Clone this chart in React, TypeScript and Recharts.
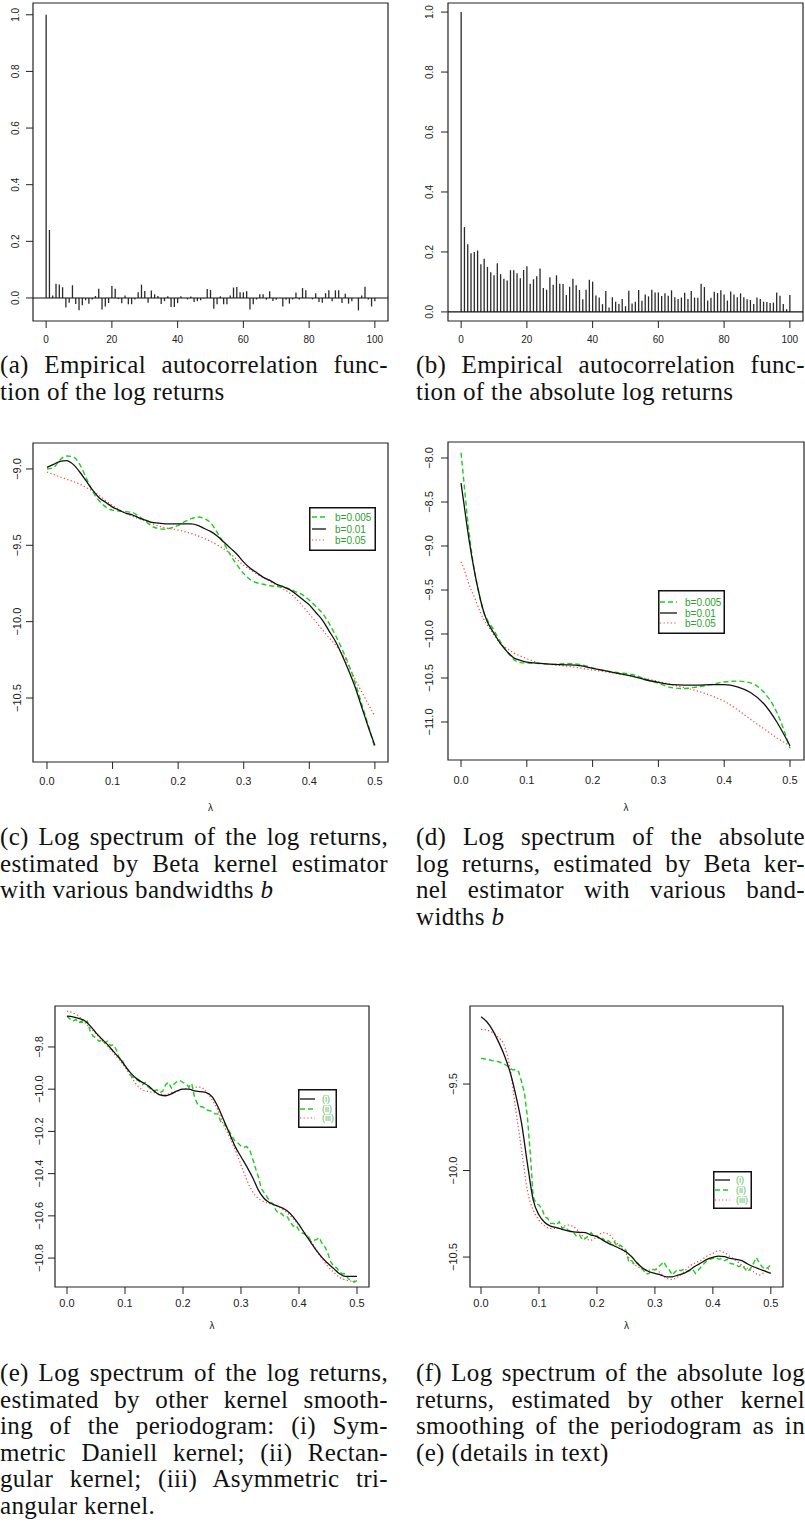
import React from 'react';
import { ComposedChart, Line, Bar, XAxis, YAxis, ReferenceLine, ReferenceArea, Legend } from 'recharts';

const SANS = '"Liberation Sans", Arial, Helvetica, sans-serif';
const SERIF = '"Liberation Serif", "Times New Roman", serif';

// ---------- ACF data (lags 0..100) ----------
const acfLags = Array.from({ length: 101 }, (_, i) => i);
const acfLogReturns = [
  1.0, 0.24, 0.009, 0.05, 0.048, 0.038, -0.034, -0.017, 0.045, -0.021,
  -0.043, -0.026, -0.008, -0.02, -0.005, 0.007, 0.033, -0.041, -0.03, -0.018,
  0.042, 0.033, -0.004, -0.019, 0.009, -0.022, -0.022, -0.005, 0.02, 0.047,
  0.025, -0.017, 0.026, 0.013, 0.007, -0.021, -0.011, 0.006, -0.032, -0.032,
  -0.018, 0.006, 0.0, -0.005, 0.005, -0.014, -0.011, -0.008, -0.002, 0.032,
  0.028, -0.038, -0.022, 0.006, -0.022, -0.022, 0.009, 0.037, 0.039, 0.02,
  0.02, 0.024, -0.041, -0.022, -0.005, 0.013, 0.013, -0.006, 0.024, -0.011,
  -0.006, 0.0, -0.03, -0.006, -0.02, -0.005, 0.019, -0.005, 0.035, 0.027,
  0.0, -0.005, 0.017, -0.014, -0.017, 0.017, 0.027, -0.012, 0.027, 0.027,
  -0.018, 0.015, -0.02, -0.012, 0.0, -0.044, 0.009, 0.04, -0.005, -0.03,
  -0.012,
];
const acfAbsLogReturns = [
  1.0, 0.283, 0.226, 0.196, 0.2, 0.205, 0.159, 0.177, 0.15, 0.132,
  0.122, 0.162, 0.126, 0.111, 0.105, 0.139, 0.139, 0.129, 0.112, 0.14,
  0.152, 0.094, 0.109, 0.119, 0.145, 0.08, 0.074, 0.116, 0.091, 0.122,
  0.094, 0.093, 0.056, 0.084, 0.111, 0.089, 0.073, 0.042, 0.074, 0.107,
  0.101, 0.055, 0.048, 0.026, 0.07, 0.015, 0.049, 0.034, 0.026, 0.043,
  0.019, 0.071, 0.028, 0.034, 0.073, 0.037, 0.058, 0.052, 0.074, 0.065,
  0.065, 0.053, 0.062, 0.054, 0.072, 0.049, 0.043, 0.048, 0.064, 0.043,
  0.07, 0.048, 0.047, 0.094, 0.083, 0.038, 0.047, 0.067, 0.063, 0.072,
  0.058, 0.038, 0.068, 0.058, 0.049, 0.062, 0.049, 0.042, 0.04, 0.026,
  0.048, 0.043, 0.034, 0.033, 0.03, 0.031, 0.065, 0.054, 0.026, 0.009,
  0.056,
];
const acfXTicks = [0, 20, 40, 60, 80, 100];
const acfYTicks = [0, 0.2, 0.4, 0.6, 0.8, 1.0];

// ---------- frequency grids ----------
const grid = (step: number) => Array.from({ length: Math.round(0.5 / step) + 1 }, (_, i) => +(i * step).toFixed(4));
const lam01 = grid(0.01);
const lam005 = grid(0.005);
const lam025 = grid(0.025);
const lamD = [0, 0.005, 0.01, 0.015, 0.02, 0.025, 0.03, 0.035, 0.04, 0.05, 0.06, 0.07, 0.08, 0.09, 0.1,
  0.12, 0.14, 0.16, 0.18, 0.2, 0.22, 0.24, 0.26, 0.28, 0.3, 0.32, 0.34, 0.36, 0.38, 0.4, 0.42, 0.44, 0.46, 0.48, 0.5];
const lambdaTicks = [0, 0.1, 0.2, 0.3, 0.4, 0.5];

// ---------- (c) log spectrum of log returns, Beta kernel ----------
const cB005 = [
  -9.0, -8.99, -8.94, -8.915, -8.92, -8.97, -9.06, -9.15, -9.21, -9.25,
  -9.27, -9.275, -9.28, -9.285, -9.31, -9.34, -9.375, -9.39, -9.395, -9.385,
  -9.37, -9.345, -9.325, -9.315, -9.325, -9.355, -9.42, -9.49, -9.565, -9.63,
  -9.685, -9.725, -9.745, -9.755, -9.765, -9.77, -9.775, -9.785, -9.805, -9.825,
  -9.86, -9.9, -9.945, -10.01, -10.09, -10.18, -10.28, -10.4, -10.54, -10.68,
  -10.83,
];
const cB01 = [
  -8.99, -8.97, -8.95, -8.945, -8.97, -9.02, -9.08, -9.14, -9.19, -9.22,
  -9.25, -9.27, -9.29, -9.3, -9.32, -9.335, -9.35, -9.355, -9.36, -9.36,
  -9.36, -9.36, -9.36, -9.37, -9.39, -9.41, -9.44, -9.48, -9.52, -9.56,
  -9.61, -9.65, -9.68, -9.71, -9.73, -9.755, -9.77, -9.79, -9.82, -9.855,
  -9.89, -9.94, -9.99, -10.06, -10.13, -10.22, -10.32, -10.43, -10.56, -10.69,
  -10.81,
];
const cB05 = [
  -9.02, -9.06, -9.1, -9.16, -9.24, -9.3, -9.34, -9.38, -9.4, -9.43,
  -9.475, -9.54, -9.63, -9.7, -9.76, -9.83, -9.95, -10.08, -10.21, -10.42,
  -10.62,
];
const cYTicks = [-9.0, -9.5, -10.0, -10.5];

// ---------- (d) log spectrum of absolute log returns, Beta kernel ----------
const dB005 = [
  -7.94, -8.32, -8.7, -9.01, -9.27, -9.46, -9.625, -9.765, -9.84,
  -9.955, -10.09, -10.2, -10.29, -10.325, -10.33,
  -10.335, -10.345, -10.335, -10.345, -10.385, -10.42, -10.44, -10.46, -10.51, -10.56,
  -10.61, -10.62, -10.6, -10.575, -10.545, -10.535, -10.555, -10.66, -10.89, -11.3,
];
const dB01 = [
  -8.285, -8.55, -8.82, -9.06, -9.27, -9.46, -9.625, -9.76, -9.86,
  -9.99, -10.11, -10.2, -10.27, -10.3, -10.32,
  -10.335, -10.345, -10.35, -10.36, -10.39, -10.42, -10.45, -10.48, -10.52, -10.55,
  -10.575, -10.58, -10.58, -10.575, -10.575, -10.6, -10.665, -10.79, -11.0, -11.27,
];
const dB05 = [
  -9.18, -9.27, -9.39, -9.49, -9.575, -9.67, -9.765, -9.84, -9.9,
  -10.01, -10.11, -10.165, -10.215, -10.25, -10.28,
  -10.33, -10.35, -10.365, -10.385, -10.41, -10.43, -10.455, -10.48, -10.505, -10.54,
  -10.575, -10.61, -10.65, -10.7, -10.765, -10.86, -10.97, -11.075, -11.18, -11.27,
];
const dYTicks = [-8.0, -8.5, -9.0, -9.5, -10.0, -10.5, -11.0];

// ---------- (e) log returns, other kernels ----------
const eDaniell = [
  -9.654, -9.657, -9.665, -9.675, -9.7, -9.733, -9.762, -9.789, -9.821, -9.852,
  -9.889, -9.924, -9.95, -9.968, -9.984, -10.008, -10.027, -10.031, -10.022, -10.008,
  -10.0, -10.0, -10.008, -10.012, -10.016, -10.035, -10.082, -10.145, -10.209, -10.272,
  -10.32, -10.367, -10.418, -10.478, -10.518, -10.539, -10.55, -10.561, -10.577, -10.605,
  -10.642, -10.684, -10.724, -10.764, -10.798, -10.826, -10.85, -10.874, -10.887, -10.887,
  -10.887,
];
const eRect = [
  -9.654, -9.667, -9.678, -9.67, -9.686, -9.678, -9.689, -9.678, -9.726, -9.749,
  -9.757, -9.773, -9.768, -9.781, -9.773, -9.794, -9.789, -9.813, -9.852, -9.86,
  -9.892, -9.908, -9.936, -9.947, -9.955, -9.963, -9.979, -9.968, -9.99, -10.0,
  -10.008, -10.003, -10.016, -10.011, -9.979, -9.968, -9.995, -9.974, -9.963, -9.96,
  -9.968, -9.974, -9.99, -9.974, -10.038, -10.07, -10.082, -10.085, -10.098, -10.101,
  -10.106, -10.117, -10.117, -10.153, -10.161, -10.177, -10.201, -10.225, -10.248, -10.256,
  -10.269, -10.275, -10.272, -10.288, -10.328, -10.375, -10.415, -10.47, -10.491, -10.51,
  -10.534, -10.542, -10.573, -10.589, -10.589, -10.605, -10.605, -10.629, -10.649, -10.645,
  -10.668, -10.681, -10.687, -10.692, -10.716, -10.716, -10.713, -10.703, -10.732, -10.748,
  -10.779, -10.819, -10.84, -10.846, -10.867, -10.874, -10.874, -10.898, -10.906, -10.914,
  -10.906,
];
const eTriang = [
  -9.63, -9.638, -9.654, -9.683, -9.71, -9.737, -9.768, -9.797, -9.829, -9.86,
  -9.895, -9.939, -9.979, -10.003, -10.011, -10.016, -10.022, -10.027, -10.016, -10.011,
  -10.0, -9.995, -9.99, -9.99, -10.011, -10.05, -10.098, -10.169, -10.225, -10.288,
  -10.359, -10.43, -10.486, -10.518, -10.534, -10.542, -10.55, -10.566, -10.586, -10.613,
  -10.645, -10.681, -10.716, -10.764, -10.803, -10.84, -10.867, -10.891, -10.903, -10.909,
  -10.909,
];
const eYTicks = [-9.8, -10.0, -10.2, -10.4, -10.6, -10.8];

// ---------- (f) absolute log returns, other kernels ----------
const fDaniell = [
  -9.111, -9.14, -9.188, -9.255, -9.332, -9.429, -9.564, -9.727, -9.959, -10.17,
  -10.257, -10.3, -10.321, -10.33, -10.34, -10.348, -10.354, -10.357, -10.359, -10.373,
  -10.382, -10.402, -10.421, -10.436, -10.452, -10.469, -10.498, -10.537, -10.566, -10.585,
  -10.594, -10.604, -10.614, -10.614, -10.604, -10.594, -10.575, -10.552, -10.533, -10.513,
  -10.502, -10.494, -10.498, -10.508, -10.513, -10.521, -10.54, -10.556, -10.569, -10.581,
  -10.594,
];
const fRect = [
  -9.352, -9.354, -9.357, -9.361, -9.365, -9.368, -9.371, -9.377, -9.384, -9.395,
  -9.409, -9.419, -9.415, -9.429, -9.487, -9.554, -9.689, -9.901, -10.151, -10.19,
  -10.199, -10.219, -10.267, -10.276, -10.305, -10.305, -10.315, -10.296, -10.334, -10.325,
  -10.344, -10.354, -10.359, -10.382, -10.373, -10.402, -10.392, -10.379, -10.359, -10.382,
  -10.379, -10.402, -10.392, -10.411, -10.406, -10.421, -10.411, -10.44, -10.431, -10.444,
  -10.46, -10.527, -10.521, -10.546, -10.533, -10.56, -10.575, -10.598, -10.594, -10.571,
  -10.575, -10.56, -10.546, -10.527, -10.556, -10.575, -10.604, -10.585, -10.571, -10.579,
  -10.571, -10.585, -10.579, -10.571, -10.594, -10.575, -10.556, -10.537, -10.521, -10.513,
  -10.508, -10.502, -10.513, -10.508, -10.521, -10.513, -10.537, -10.54, -10.546, -10.556,
  -10.546, -10.566, -10.585, -10.566, -10.537, -10.502, -10.533, -10.556, -10.571, -10.56,
  -10.546,
];
const fTriang = [
  -9.184, -9.188, -9.203, -9.23, -9.275, -9.409, -9.65, -9.882, -10.113, -10.228,
  -10.286, -10.321, -10.334, -10.334, -10.325, -10.315, -10.325, -10.359, -10.392, -10.402,
  -10.382, -10.359, -10.367, -10.402, -10.44, -10.479, -10.527, -10.556, -10.571, -10.575,
  -10.571, -10.594, -10.623, -10.629, -10.614, -10.585, -10.552, -10.533, -10.517, -10.494,
  -10.479, -10.463, -10.475, -10.498, -10.521, -10.546, -10.566, -10.585, -10.604, -10.585,
  -10.556,
];
const fYTicks = [-9.5, -10.0, -10.5];

const betaLabels = ['b=0.005', 'b=0.01', 'b=0.05'];
const kernelLabels = ['(i)', '(ii)', '(iii)'];

// ---------- styles ----------
const GREEN = '#1fcb1f';
const BLACK = '#111';
const RED = '#ff3b3b';
const STY = {
  green: { color: GREEN, width: 1.4, dash: '5 3' },
  black: { color: BLACK, width: 1.3, dash: undefined as string | undefined },
  red: { color: RED, width: 1.2, dash: '1.2 2.4' },
};

const fmt1 = (v: number) => (v < 0 ? '\u2212' : '') + Math.abs(v).toFixed(1);

type Series = { key: string; xs: number[]; ys: number[]; style: { color: string; width: number; dash?: string }; curve: 'monotone' | 'linear' };

function buildTable(series: Series[]) {
  const map = new Map<number, any>();
  series.forEach((s) =>
    s.xs.forEach((x, i) => {
      const k = Math.round(x * 10000);
      if (!map.has(k)) map.set(k, { x: k / 10000 });
      map.get(k)[s.key] = s.ys[i];
    })
  );
  return Array.from(map.values()).sort((a, b) => a.x - b.x);
}

const RotTick = (props: any) => {
  const { x, y, payload, fontSize } = props;
  return (
    <text x={x} y={y} transform={`rotate(-90 ${x} ${y})`} textAnchor="middle" fontSize={fontSize} fill="#222" fontFamily={SANS}>
      {fmt1(payload.value)}
    </text>
  );
};

function LegendBox({ w, h, rows, lineX, textX, fontSize, textColor, items }: any) {
  return (
    <svg width={w} height={h} style={{ display: 'block' }}>
      <rect x={0.75} y={0.75} width={w - 1.5} height={h - 1.5} fill="#fff" stroke="#111" strokeWidth={1.5} />
      {items.map((it: any, i: number) => (
        <g key={i}>
          <line x1={lineX[0]} x2={lineX[1]} y1={rows[i]} y2={rows[i]} stroke={it.style.color} strokeWidth={it.style.width} strokeDasharray={it.style.dash} />
          <text x={textX} y={rows[i]} dy="0.36em" fontSize={fontSize} fill={textColor} fontFamily={SANS}>
            {it.label}
          </text>
        </g>
      ))}
    </svg>
  );
}

function AcfPanel({ left, width, values, yAxisWidth, yDomain, yTickMargin, rightMargin }: any) {
  const data = acfLags.map((lag, i) => ({ lag, v: values[i] }));
  const xDomain = [-4, 104];
  return (
    <div style={{ position: 'absolute', left, top: 0 }}>
      <ComposedChart width={width} height={350} data={data} margin={{ top: 3, right: rightMargin, bottom: 4, left: 0 }}>
        <XAxis dataKey="lag" type="number" domain={xDomain} allowDataOverflow ticks={acfXTicks} interval={0} height={25}
          axisLine={false} tickSize={7} tickMargin={8} tickLine={{ stroke: '#222' }}
          tick={{ fontSize: 10, fill: '#222', fontFamily: SANS }} />
        <YAxis type="number" domain={yDomain} allowDataOverflow ticks={acfYTicks} interval={0} width={yAxisWidth}
          axisLine={false} tickSize={7} tickMargin={yTickMargin} tickLine={{ stroke: '#222' }}
          tick={(p: any) => <RotTick {...p} fontSize={10} />} />
        <Bar dataKey="v" barSize={1.3} fill="#2a2a2a" isAnimationActive={false} />
        <ReferenceLine y={0} stroke="#111" strokeWidth={1.2} />
        <ReferenceArea x1={xDomain[0]} x2={xDomain[1]} y1={yDomain[0]} y2={yDomain[1]} fill="none" fillOpacity={0}
          stroke="#222" strokeWidth={1.2} ifOverflow="visible" />
      </ComposedChart>
    </div>
  );
}

function SpectrumPanel(p: any) {
  const data = buildTable(p.series);
  return (
    <div style={{ position: 'absolute', left: p.left, top: p.top }}>
      <ComposedChart width={p.width} height={p.height} data={data} margin={p.margin}>
        <XAxis dataKey="x" type="number" domain={p.xDomain} allowDataOverflow ticks={lambdaTicks} interval={0} height={p.xAxisHeight}
          axisLine={false} tickSize={7} tickMargin={p.xTickMargin} tickLine={{ stroke: '#222' }}
          tickFormatter={(v: number) => v.toFixed(1)}
          tick={{ fontSize: 11, fill: '#222', fontFamily: SANS }}
          label={{ value: '\u03bb', position: 'insideBottom', offset: p.lambdaOffset, fontSize: 10, fill: '#222', fontFamily: SANS }} />
        <YAxis type="number" domain={p.yDomain} allowDataOverflow ticks={p.yTicks} interval={0} width={p.yAxisWidth}
          axisLine={false} tickSize={7} tickMargin={p.yTickMargin} tickLine={{ stroke: '#222' }}
          tick={(tp: any) => <RotTick {...tp} fontSize={11} />} />
        {p.series.map((s: Series) => (
          <Line key={s.key} dataKey={s.key} type={s.curve} stroke={s.style.color} strokeWidth={s.style.width}
            strokeDasharray={s.style.dash} dot={false} activeDot={false} connectNulls isAnimationActive={false} legendType="none" />
        ))}
        <ReferenceArea x1={p.xDomain[0]} x2={p.xDomain[1]} y1={p.yDomain[0]} y2={p.yDomain[1]} fill="none" fillOpacity={0}
          stroke="#222" strokeWidth={1.2} ifOverflow="visible" />
        <Legend layout="vertical" align="center" verticalAlign="middle"
          wrapperStyle={{ left: p.legend.left, top: p.legend.top, width: p.legend.w, height: p.legend.h }}
          content={() => <LegendBox {...p.legend} />} />
      </ComposedChart>
    </div>
  );
}

function Caption({ left, top, width, lines }: { left: number; top: number; width: number; lines: React.ReactNode[] }) {
  return (
    <div style={{ position: 'absolute', left, top, width, fontFamily: SERIF, fontSize: 25, lineHeight: '26.5px', letterSpacing: '0.35px', color: '#111' }}>
      {lines.map((ln, i) => {
        const last = i === lines.length - 1;
        return (
          <div key={i} style={{ textAlign: last ? 'left' : 'justify', textAlignLast: last ? 'left' : 'justify' } as any}>
            {ln}
          </div>
        );
      })}
    </div>
  );
}

export default function App() {
  const betaItems = [
    { label: betaLabels[0], style: STY.green },
    { label: betaLabels[1], style: STY.black },
    { label: betaLabels[2], style: STY.red },
  ];
  const kernelItems = [
    { label: kernelLabels[0], style: STY.black },
    { label: kernelLabels[1], style: STY.green },
    { label: kernelLabels[2], style: STY.red },
  ];

  const cSeries: Series[] = [
    { key: 'r', xs: lam025, ys: cB05, style: STY.red, curve: 'monotone' },
    { key: 'g', xs: lam01, ys: cB005, style: STY.green, curve: 'monotone' },
    { key: 'k', xs: lam01, ys: cB01, style: STY.black, curve: 'monotone' },
  ];
  const dSeries: Series[] = [
    { key: 'r', xs: lamD, ys: dB05, style: STY.red, curve: 'monotone' },
    { key: 'g', xs: lamD, ys: dB005, style: STY.green, curve: 'monotone' },
    { key: 'k', xs: lamD, ys: dB01, style: STY.black, curve: 'monotone' },
  ];
  const eSeries: Series[] = [
    { key: 'r', xs: lam01, ys: eTriang, style: STY.red, curve: 'monotone' },
    { key: 'g', xs: lam005, ys: eRect, style: STY.green, curve: 'linear' },
    { key: 'k', xs: lam01, ys: eDaniell, style: STY.black, curve: 'monotone' },
  ];
  const fSeries: Series[] = [
    { key: 'r', xs: lam01, ys: fTriang, style: STY.red, curve: 'monotone' },
    { key: 'g', xs: lam005, ys: fRect, style: STY.green, curve: 'linear' },
    { key: 'k', xs: lam01, ys: fDaniell, style: STY.black, curve: 'monotone' },
  ];

  return (
    <div style={{ position: 'absolute', left: 0, top: 0, width: 805, height: 1530, background: '#fff', overflow: 'hidden' }}>
      <AcfPanel left={0} width={400} values={acfLogReturns} yAxisWidth={33} yDomain={[-0.0813, 1.0416]} yTickMargin={7} rightMargin={12} />
      <AcfPanel left={400} width={405} values={acfAbsLogReturns} yAxisWidth={48} yDomain={[-0.0303, 1.0303]} yTickMargin={7.5} rightMargin={2} />

      <SpectrumPanel left={0} top={440} width={400} height={380} margin={{ top: 3, right: 12, bottom: 8, left: 0 }}
        yAxisWidth={33} xAxisHeight={50} xDomain={[-0.0213, 0.52]} yDomain={[-10.919, -8.83]} yTicks={cYTicks}
        yTickMargin={5} xTickMargin={8} lambdaOffset={1} series={cSeries}
        legend={{ left: 309, top: 67, w: 67, h: 44, rows: [10, 22, 33], lineX: [3, 17], textX: 26, fontSize: 10, textColor: '#2f9f2f', items: betaItems }} />
      <SpectrumPanel left={400} top={440} width={405} height={380} margin={{ top: 2, right: 1, bottom: 10, left: 0 }}
        yAxisWidth={48} xAxisHeight={50} xDomain={[-0.0198, 0.5213]} yDomain={[-11.432, -7.818]} yTicks={dYTicks}
        yTickMargin={8} xTickMargin={9} lambdaOffset={-1} series={dSeries}
        legend={{ left: 258, top: 150, w: 67, h: 44, rows: [12, 23, 33], lineX: [2, 19], textX: 27, fontSize: 10, textColor: '#2f9f2f', items: betaItems }} />

      <SpectrumPanel left={0} top={1000} width={400} height={340} margin={{ top: 6, right: 31, bottom: 8, left: 0 }}
        yAxisWidth={55} xAxisHeight={45} xDomain={[-0.0207, 0.5207]} yDomain={[-10.937, -9.606]} yTicks={eYTicks}
        yTickMargin={5} xTickMargin={5} lambdaOffset={3} series={eSeries}
        legend={{ left: 298, top: 89, w: 39, h: 39, rows: [10, 20, 29], lineX: [2, 17], textX: 24, fontSize: 9, textColor: '#5cb85c', items: kernelItems }} />
      <SpectrumPanel left={400} top={1000} width={405} height={340} margin={{ top: 6, right: 22, bottom: 8, left: 0 }}
        yAxisWidth={70} xAxisHeight={45} xDomain={[-0.019, 0.521]} yDomain={[-10.673, -9.049]} yTicks={fYTicks}
        yTickMargin={6} xTickMargin={5} lambdaOffset={3} series={fSeries}
        legend={{ left: 313, top: 171, w: 39, h: 38, rows: [9, 19, 29], lineX: [2, 17], textX: 23, fontSize: 9, textColor: '#5cb85c', items: kernelItems }} />

      <Caption left={0} top={352} width={388} lines={['(a) Empirical autocorrelation func-', 'tion of the log returns']} />
      <Caption left={416} top={352} width={389} lines={['(b) Empirical autocorrelation func-', 'tion of the absolute log returns']} />
      <Caption left={0} top={824} width={388} lines={['(c) Log spectrum of the log returns,', 'estimated by Beta kernel estimator', <span>with various bandwidths <i>b</i></span>]} />
      <Caption left={416} top={824} width={389} lines={['(d) Log spectrum of the absolute', 'log returns, estimated by Beta ker-', 'nel estimator with various band-', <span>widths <i>b</i></span>]} />
      <Caption left={0} top={1360} width={388} lines={['(e) Log spectrum of the log returns,', 'estimated by other kernel smooth-', 'ing of the periodogram: (i) Sym-', 'metric Daniell kernel; (ii) Rectan-', 'gular kernel; (iii) Asymmetric tri-', 'angular kernel.']} />
      <Caption left={416} top={1360} width={389} lines={['(f) Log spectrum of the absolute log', 'returns, estimated by other kernel', 'smoothing of the periodogram as in', '(e) (details in text)']} />
    </div>
  );
}
